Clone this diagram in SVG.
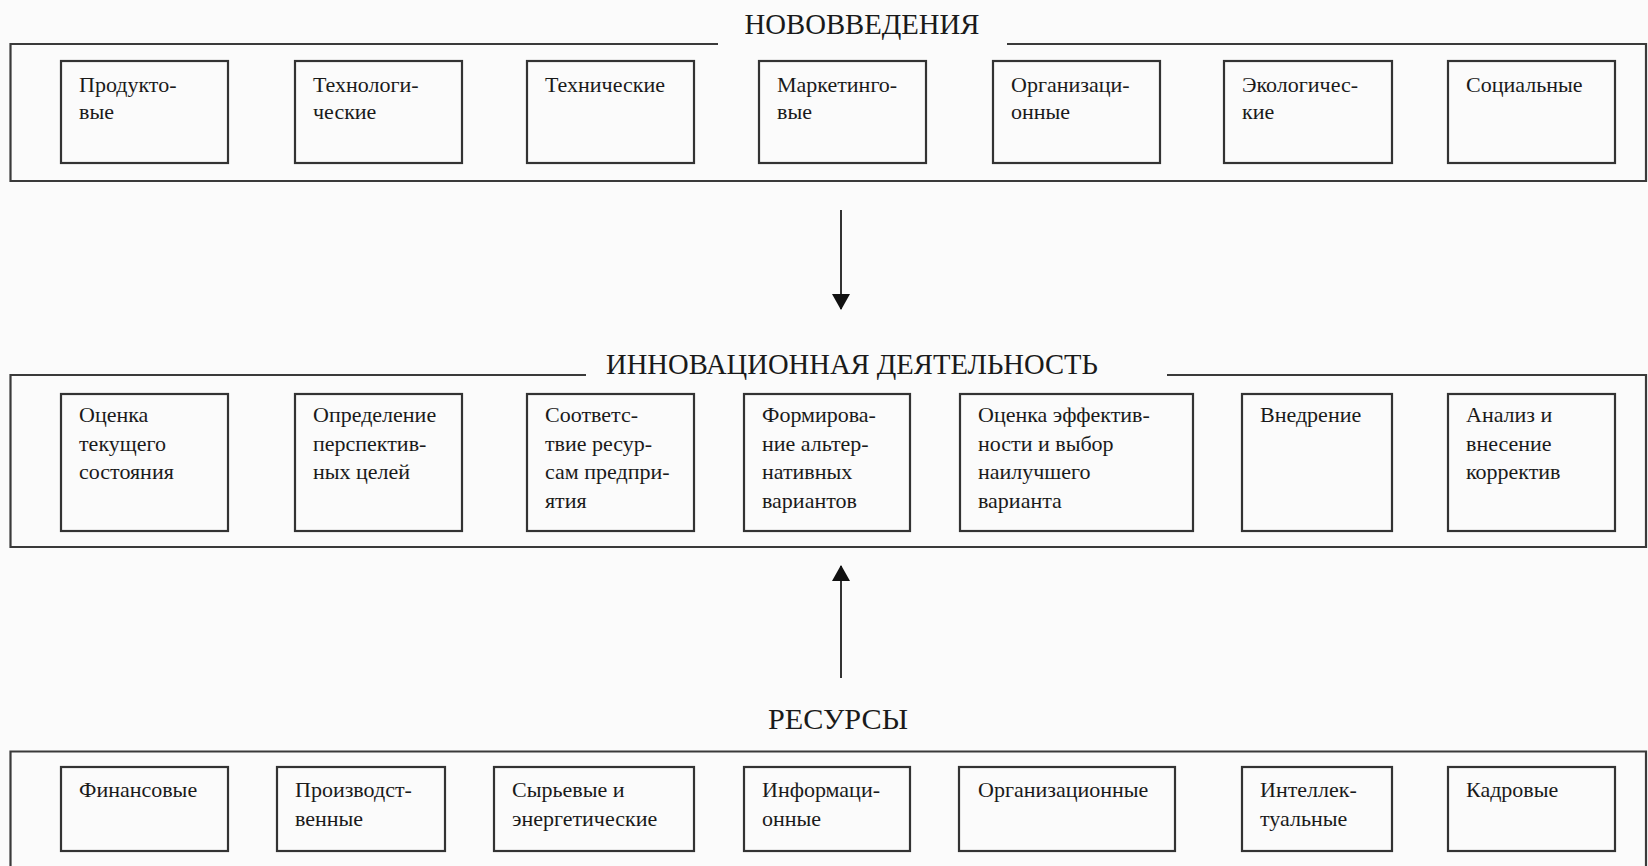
<svg xmlns="http://www.w3.org/2000/svg" width="1648" height="866" viewBox="0 0 1648 866">
<style>
.frame{fill:none;stroke:#3a3a3a;stroke-width:2.2}
.box{fill:none;stroke:#333;stroke-width:2.2}
.t{font-family:"Liberation Serif","Times New Roman",serif;font-size:22px;fill:#1a1a1a}
.h{font-family:"Liberation Serif","Times New Roman",serif;font-size:29px;fill:#1a1a1a;text-anchor:middle}
.conn{stroke:#333;stroke-width:2;fill:none}
</style>
<defs>
<marker id="ah" markerUnits="userSpaceOnUse" markerWidth="16" markerHeight="18" viewBox="0 0 16 18" refX="15" refY="9" orient="auto">
<path d="M0,0 L16,9 L0,18 Z" fill="#111"/>
</marker>
</defs>
<rect width="1648" height="866" fill="#fbfbfb"/>

<g id="group-novovvedeniya">
<path class="frame" d="M718,44 H10.5 V181 H1646 V44 H1007"/>
<text class="h" x="862" y="34" textLength="235" lengthAdjust="spacingAndGlyphs">НОВОВВЕДЕНИЯ</text>
</g>
<g id="n1"><rect class="box" x="61" y="61" width="167" height="102"/><text class="t" x="79" y="92">Продукто-</text><text class="t" x="79" y="119">вые</text></g>
<g id="n2"><rect class="box" x="295" y="61" width="167" height="102"/><text class="t" x="313" y="92">Технологи-</text><text class="t" x="313" y="119">ческие</text></g>
<g id="n3"><rect class="box" x="527" y="61" width="167" height="102"/><text class="t" x="545" y="92">Технические</text></g>
<g id="n4"><rect class="box" x="759" y="61" width="167" height="102"/><text class="t" x="777" y="92">Маркетинго-</text><text class="t" x="777" y="119">вые</text></g>
<g id="n5"><rect class="box" x="993" y="61" width="167" height="102"/><text class="t" x="1011" y="92">Организаци-</text><text class="t" x="1011" y="119">онные</text></g>
<g id="n6"><rect class="box" x="1224" y="61" width="168" height="102"/><text class="t" x="1242" y="92">Экологичес-</text><text class="t" x="1242" y="119">кие</text></g>
<g id="n7"><rect class="box" x="1448" y="61" width="167" height="102"/><text class="t" x="1466" y="92">Социальные</text></g>

<g id="group-innov">
<path class="frame" d="M586,375 H10.5 V547 H1646 V375 H1167"/>
<text class="h" x="852" y="374" textLength="492" lengthAdjust="spacingAndGlyphs">ИННОВАЦИОННАЯ ДЕЯТЕЛЬНОСТЬ</text>
</g>
<g id="m1"><rect class="box" x="61" y="394" width="167" height="137"/><text class="t" x="79" y="422">Оценка</text><text class="t" x="79" y="450.7">текущего</text><text class="t" x="79" y="479.4">состояния</text></g>
<g id="m2"><rect class="box" x="295" y="394" width="167" height="137"/><text class="t" x="313" y="422">Определение</text><text class="t" x="313" y="450.7">перспектив-</text><text class="t" x="313" y="479.4">ных целей</text></g>
<g id="m3"><rect class="box" x="527" y="394" width="167" height="137"/><text class="t" x="545" y="422">Соответс-</text><text class="t" x="545" y="450.7">твие ресур-</text><text class="t" x="545" y="479.4">сам предпри-</text><text class="t" x="545" y="508">ятия</text></g>
<g id="m4"><rect class="box" x="744" y="394" width="166" height="137"/><text class="t" x="762" y="422">Формирова-</text><text class="t" x="762" y="450.7">ние альтер-</text><text class="t" x="762" y="479.4">нативных</text><text class="t" x="762" y="508">вариантов</text></g>
<g id="m5"><rect class="box" x="960" y="394" width="233" height="137"/><text class="t" x="978" y="422">Оценка эффектив-</text><text class="t" x="978" y="450.7">ности и выбор</text><text class="t" x="978" y="479.4">наилучшего</text><text class="t" x="978" y="508">варианта</text></g>
<g id="m6"><rect class="box" x="1242" y="394" width="150" height="137"/><text class="t" x="1260" y="422">Внедрение</text></g>
<g id="m7"><rect class="box" x="1448" y="394" width="167" height="137"/><text class="t" x="1466" y="422">Анализ и</text><text class="t" x="1466" y="450.7">внесение</text><text class="t" x="1466" y="479.4">корректив</text></g>

<g id="group-resursy">
<path class="frame" d="M10.5,870 V751.5 H1646 V870"/>
<text class="h" x="838" y="729" textLength="140" lengthAdjust="spacingAndGlyphs">РЕСУРСЫ</text>
</g>
<g id="r1"><rect class="box" x="61" y="767" width="167" height="84"/><text class="t" x="79" y="797">Финансовые</text></g>
<g id="r2"><rect class="box" x="277" y="767" width="168" height="84"/><text class="t" x="295" y="797">Производст-</text><text class="t" x="295" y="826">венные</text></g>
<g id="r3"><rect class="box" x="494" y="767" width="200" height="84"/><text class="t" x="512" y="797">Сырьевые и</text><text class="t" x="512" y="826">энергетические</text></g>
<g id="r4"><rect class="box" x="744" y="767" width="166" height="84"/><text class="t" x="762" y="797">Информаци-</text><text class="t" x="762" y="826">онные</text></g>
<g id="r5"><rect class="box" x="959" y="767" width="216" height="84"/><text class="t" x="978" y="797">Организационные</text></g>
<g id="r6"><rect class="box" x="1242" y="767" width="150" height="84"/><text class="t" x="1260" y="797">Интеллек-</text><text class="t" x="1260" y="826">туальные</text></g>
<g id="r7"><rect class="box" x="1448" y="767" width="167" height="84"/><text class="t" x="1466" y="797">Кадровые</text></g>

<g id="connectors">
<line class="conn" x1="841" y1="210" x2="841" y2="309" marker-end="url(#ah)"/>
<line class="conn" x1="841" y1="678" x2="841" y2="566" marker-end="url(#ah)"/>
</g>
</svg>
